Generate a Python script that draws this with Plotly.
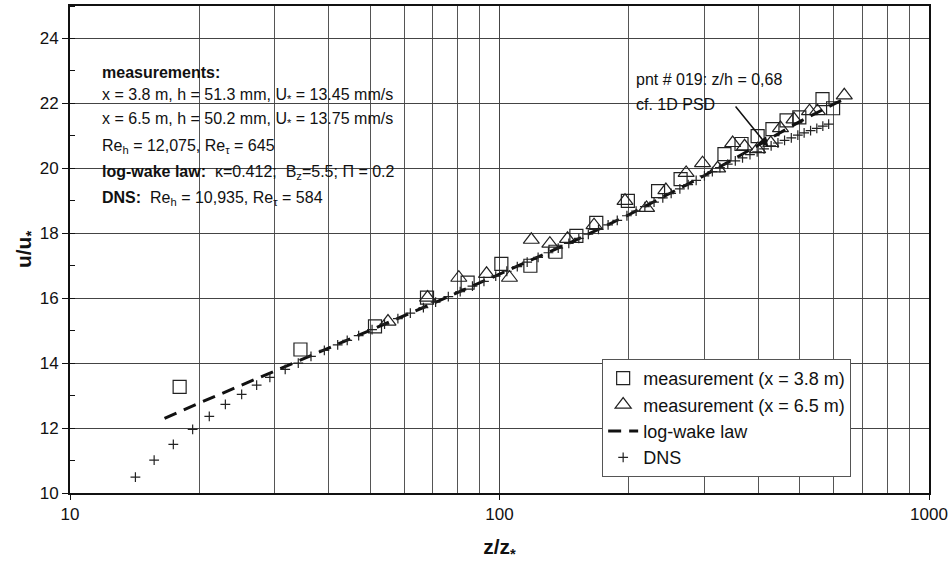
import plotly.graph_objects as go

# --- data ---
meas38_z = [18.0, 34.4, 51.3, 67.8, 84.3, 101, 118, 135, 151, 168, 199, 234, 264,
            334, 366, 399, 432, 466, 499, 565, 598]
meas38_u = [13.27, 14.42, 15.13, 16.02, 16.48, 17.06, 17.00, 17.43, 17.92, 18.32, 19.00, 19.30, 19.67,
            20.44, 20.75, 20.99, 21.21, 21.48, 21.57, 22.13, 21.85]

meas65_z = [55, 68, 80.4, 93.3, 105.5, 118.6, 131, 144, 166, 196, 220, 244, 272, 297, 322,
            349, 372, 399, 428, 451, 485, 527, 550, 635]
meas65_u = [15.28, 16.02, 16.63, 16.75, 16.63, 17.80, 17.68, 17.83, 18.25, 19.00, 18.78, 19.33, 19.86, 20.16, 20.00,
            20.78, 20.68, 20.59, 20.78, 21.24, 21.51, 21.76, 21.76, 22.25]

logwake_z = [16.6, 20, 30, 50, 70, 100, 150, 200, 300, 400, 500, 600, 645]
logwake_u = [12.30, 12.77, 13.76, 15.01, 15.84, 16.74, 17.78, 18.57, 19.78, 20.71, 21.44, 21.98, 22.17]

dns_z = [14.2, 15.7, 17.4, 19.3, 21.1, 23.0, 25.1, 27.2, 29.2, 31.7, 34.0, 36.4, 39.1, 42, 44.2, 47,
         50.5, 54, 58, 62, 66.5, 71, 76, 81, 86.5, 92, 98, 104, 110, 116, 123, 130, 137, 145, 153,
         161, 170, 179, 188, 198, 208, 218, 229, 240, 251, 263, 275, 287, 300, 313, 326, 340, 354,
         368, 383, 398, 413, 429, 445, 461, 478, 495, 512, 530, 548, 566, 584]
dns_u = [10.49, 11.01, 11.50, 11.96, 12.36, 12.73, 13.04, 13.32, 13.56, 13.81, 14.00, 14.21, 14.39, 14.56, 14.70, 14.85,
         15.03, 15.20, 15.37, 15.54, 15.71, 15.88, 16.05, 16.20, 16.37, 16.52, 16.68, 16.83, 16.97, 17.11, 17.26, 17.40, 17.54, 17.69, 17.84,
         17.97, 18.12, 18.26, 18.40, 18.54, 18.68, 18.82, 18.96, 19.09, 19.23, 19.37, 19.50, 19.63, 19.77, 19.90, 20.02, 20.13, 20.23,
         20.32, 20.42, 20.51, 20.60, 20.69, 20.78, 20.86, 20.94, 21.02, 21.09, 21.16, 21.23, 21.30, 21.36]

info_lines = [
    "<b>measurements:</b>",
    "x = 3.8 m, h = 51.3 mm, U<sub>*</sub> = 13.45 mm/s",
    "x = 6.5 m, h = 50.2 mm, U<sub>*</sub> = 13.75 mm/s",
    "Re<sub>h</sub> = 12,075, Re<sub>τ</sub> = 645",
    "<b>log-wake law:</b>  κ=0.412;  B<sub>z</sub>=5.5; Π = 0.2",
    "<b>DNS:</b>  Re<sub>h</sub> = 10,935, Re<sub>τ</sub> = 584",
]
info_y = [0.863, 0.816, 0.767, 0.712, 0.658, 0.605]

FONT = "Liberation Sans, Arial, sans-serif"
INK = "#111"

fig = go.Figure()
fig.add_trace(go.Scatter(x=meas38_z, y=meas38_u, mode="markers", name="measurement (x = 3.8 m)",
                         marker=dict(symbol="square-open", size=13, color="#222", line=dict(width=1.2))))
fig.add_trace(go.Scatter(x=meas65_z, y=meas65_u, mode="markers", name="measurement (x = 6.5 m)",
                         marker=dict(symbol="triangle-up-open", size=14, color="#222", line=dict(width=1.2))))
fig.add_trace(go.Scatter(x=logwake_z, y=logwake_u, mode="lines", name="log-wake law",
                         line=dict(color=INK, width=3, dash="13px,8px")))
fig.add_trace(go.Scatter(x=dns_z, y=dns_u, mode="markers", name="DNS",
                         marker=dict(symbol="cross-thin-open", size=7, color="#222", line=dict(width=1.2, color="#222"))))

fig.add_shape(type="rect", xref="paper", yref="paper", x0=0.021, x1=0.371, y0=0.568, y1=0.918,
              fillcolor="white", line=dict(width=0), layer="between")

for t, yy in zip(info_lines, info_y):
    fig.add_annotation(text=t, xref="paper", yref="paper", x=0.0348, y=yy, xanchor="left", yanchor="middle",
                       showarrow=False, font=dict(size=16, color=INK, family=FONT))

fig.add_annotation(text="pnt # 019: z/h = 0,68", xref="paper", yref="paper", x=0.6566, y=0.8487,
                   xanchor="left", yanchor="middle", showarrow=False, font=dict(size=16, color=INK, family=FONT))
fig.add_annotation(text="cf. 1D PSD", xref="paper", yref="paper", x=0.6566, y=0.7975,
                   xanchor="left", yanchor="middle", showarrow=False, font=dict(size=16, color=INK, family=FONT))
fig.add_annotation(text="", x=2.626, y=20.66, xref="x", yref="y", showarrow=True, ax=-34, ay=-42,
                   arrowhead=2, arrowsize=1.3, arrowwidth=1.5, arrowcolor=INK)

fig.update_layout(
    width=952, height=565,
    margin=dict(l=70, r=20, t=4, b=72),
    paper_bgcolor="white", plot_bgcolor="white",
    font=dict(family=FONT, size=16, color=INK),
    showlegend=True,
    legend=dict(x=0.6195, y=0.033, xanchor="left", yanchor="bottom", bgcolor="white",
                bordercolor="#555", borderwidth=1, font=dict(size=18, family=FONT, color=INK),
                tracegroupgap=0, itemsizing="trace"),
)
fig.update_xaxes(type="log", range=[1, 3], dtick=1, showgrid=True, gridcolor="#444", gridwidth=1.2,
                 showline=True, mirror=True, linecolor=INK, linewidth=2,
                 ticks="outside", ticklen=5, tickcolor=INK,
                 minor=dict(dtick="D1", showgrid=True, gridcolor="#555", gridwidth=1.2, ticks=""),
                 tickfont=dict(size=17),
                 title=dict(text="<b>z/z<sub>*</sub></b>", font=dict(size=21), standoff=16))
fig.update_yaxes(range=[10, 25], tick0=10, dtick=2, showgrid=True, gridcolor="#444", gridwidth=1.2,
                 showline=True, mirror=True, linecolor=INK, linewidth=2,
                 ticks="outside", ticklen=6, tickcolor=INK,
                 minor=dict(dtick=1, ticks="inside", ticklen=5, tickcolor=INK, showgrid=False),
                 tickfont=dict(size=17), zeroline=False,
                 title=dict(text="<b>u/u<sub>*</sub></b>", font=dict(size=21), standoff=2))

fig.write_html("out.html")
